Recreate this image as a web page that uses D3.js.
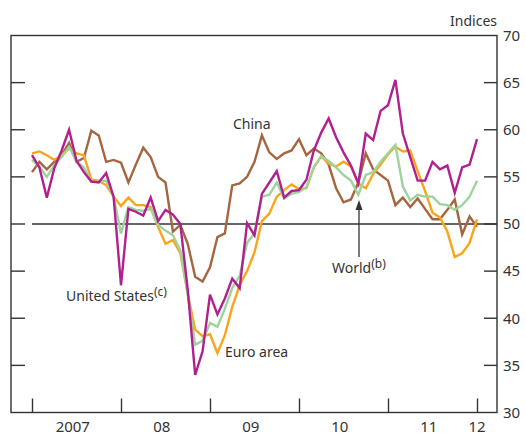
<!DOCTYPE html>
<html><head><meta charset="utf-8">
<script src="https://cdn.jsdelivr.net/npm/d3@7"></script>
<style>
body{margin:0;background:#fff;}
text{font-family:"Noto Sans","Open Sans",sans-serif;fill:#333;}
</style></head><body>
<svg id="c" width="526" height="435"></svg>
<script>
// Monthly index, Jan 2007 .. Jan 2012
const months = d3.range(61);
const unitedStates = [57.3,56.0,52.8,55.9,57.8,60.0,56.7,55.5,54.5,54.4,55.4,52.9,43.5,51.6,51.3,50.9,52.8,50.3,51.5,51.0,50.0,43.0,34.0,36.5,42.5,40.4,42.1,44.2,43.2,50.1,48.8,53.2,54.4,55.6,52.8,53.5,53.6,54.7,57.8,59.7,61.2,59.2,57.6,56.2,54.3,59.6,58.9,62.0,62.6,65.3,59.6,57.1,54.6,54.6,56.6,55.8,56.2,53.3,56.0,56.3,59.0];
const euroArea = [57.5,57.7,57.3,56.8,57.3,58.0,57.5,57.3,54.7,54.6,54.1,52.9,51.9,52.8,52.0,52.0,51.8,49.7,47.9,48.3,46.9,42.6,38.8,38.1,38.3,36.3,38.2,41.2,43.5,45.0,47.0,50.3,51.1,52.9,53.6,54.2,53.7,53.8,56.0,57.2,56.4,56.1,56.6,56.1,54.3,53.8,55.3,56.3,57.4,58.2,57.7,57.8,55.6,53.5,51.2,50.7,49.2,46.5,46.9,48.0,50.5];
const world = [56.8,56.1,55.0,56.2,57.1,58.2,56.6,56.0,54.5,54.5,54.6,52.9,49.0,51.8,51.5,51.4,51.6,49.9,49.3,48.8,47.2,42.6,37.2,37.6,39.5,39.1,41.0,43.2,44.5,48.0,49.0,52.9,53.1,54.4,52.7,53.2,53.4,53.9,56.0,57.2,56.7,56.0,55.2,54.6,53.1,55.2,55.5,56.6,57.5,58.4,54.0,52.5,53.1,52.9,52.9,52.1,52.0,51.5,52.0,52.9,54.6];
const china = [55.5,56.6,55.8,56.6,57.3,58.6,56.6,57.0,59.9,59.4,56.6,56.8,56.5,54.4,56.3,58.1,57.1,55.0,54.4,49.2,49.9,47.9,44.4,43.9,45.4,48.6,49.0,54.1,54.3,55.0,56.6,59.4,57.6,56.9,57.5,57.8,59.0,57.3,58.0,57.5,56.3,53.8,52.3,52.6,54.4,57.5,55.8,55.2,54.6,52.0,52.8,51.8,52.7,51.6,50.5,50.5,51.5,52.6,48.9,50.8,49.7];
const yearLabels = ["2007","08","09","10","11","12"];
const yTicks = [30,35,40,45,50,55,60,65,70];

const seriesList = [
  {name:"China", values:china, color:"#a5663f"},
  {name:"Euro area", values:euroArea, color:"#f9a51b"},
  {name:"World", values:world, color:"#9dd49c"},
  {name:"United States", values:unitedStates, color:"#b0208f"}
];

const svg = d3.select("#c");
const L=11, R=497, T=35.5, B=412.5;
const x = d3.scaleLinear().domain([0,60]).range([32,477]);
const y = d3.scaleLinear().domain([30,70]).range([B,T]);
const axisColor="#333";

// 50 reference line
svg.append("line").attr("x1",x(0)).attr("x2",R).attr("y1",y(50)).attr("y2",y(50))
  .attr("stroke",axisColor).attr("stroke-width",1.3);

// series lines
const line = d3.line().x((d,i)=>x(i)).y(d=>y(d));
seriesList.forEach(s=>{
  svg.append("path").datum(s.values).attr("d",line).attr("fill","none")
    .attr("stroke",s.color).attr("stroke-width",2.4).attr("stroke-linejoin","miter");
});

// frame
svg.append("rect").attr("x",L).attr("y",T).attr("width",R-L).attr("height",B-T)
  .attr("fill","none").attr("stroke",axisColor).attr("stroke-width",1.4);

// right axis (labels) with inward ticks
const yAxisR = d3.axisRight(y).tickValues(yTicks).tickSize(0).tickPadding(6);
const gR = svg.append("g").attr("transform",`translate(${R},0)`).call(yAxisR);
gR.select(".domain").remove();
gR.selectAll("text").style("font-size","15px").attr("fill","#333");
// inward ticks both sides
yTicks.filter(v=>v>30&&v<70).forEach(v=>{
  svg.append("line").attr("x1",R-13).attr("x2",R).attr("y1",y(v)).attr("y2",y(v)).attr("stroke",axisColor).attr("stroke-width",1.4);
  svg.append("line").attr("x1",L).attr("x2",L+14).attr("y1",y(v)).attr("y2",y(v)).attr("stroke",axisColor).attr("stroke-width",1.4);
});

// bottom axis: year ticks inward
const xAxis = d3.axisTop(x).tickValues([0,12,24,36,48,60]).tickSize(14).tickFormat("");
const gB = svg.append("g").attr("transform",`translate(0,${B})`).call(xAxis);
gB.select(".domain").remove();
gB.selectAll("line").attr("stroke",axisColor).attr("stroke-width",1.4);
// year labels
const labelPos = [5.5,17.5,29.5,41.5,53.5,60];
svg.selectAll(".yl").data(yearLabels).enter().append("text")
  .attr("x",(d,i)=>x(labelPos[i])).attr("y",432).attr("text-anchor","middle")
  .style("font-size","15px").text(d=>d);

// Indices
svg.append("text").attr("x",R).attr("y",26).attr("text-anchor","end").style("font-size","14px").text("Indices");

// series labels
svg.append("text").attr("x",233).attr("y",129).style("font-size","14px").text("China");
svg.append("text").attr("x",225).attr("y",357).style("font-size","14px").text("Euro area");
const us = svg.append("text").attr("x",66).attr("y",301).style("font-size","14px");
us.append("tspan").text("United States");
us.append("tspan").attr("dy",-5).style("font-size","12px").text("(c)");
const wl = svg.append("text").attr("x",332).attr("y",273).style("font-size","14px");
wl.append("tspan").text("World");
wl.append("tspan").attr("dy",-5).style("font-size","12px").text("(b)");

// arrow
svg.append("line").attr("x1",359).attr("x2",359).attr("y1",257).attr("y2",208).attr("stroke",axisColor).attr("stroke-width",1.3);
svg.append("path").attr("d","M359,200 L355.5,210 L362.5,210 Z").attr("fill",axisColor);
</script></body></html>
